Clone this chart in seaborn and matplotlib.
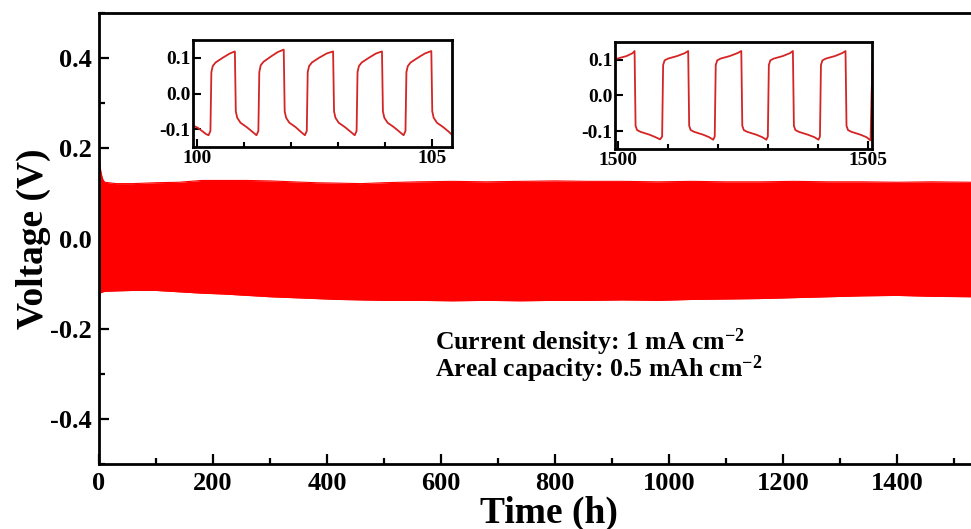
import numpy as np
import pandas as pd
import seaborn as sns
from matplotlib import pyplot as plt
from matplotlib.ticker import MultipleLocator

# envelope of the long cycling trace (h, V)
band_t = [0, 1, 2, 3, 5, 7, 10, 30, 60, 100, 140, 180, 220, 260, 300, 340, 380, 420, 460,
          500, 560, 620, 680, 740, 800, 860, 920, 980, 1040, 1100, 1160, 1220, 1280, 1340,
          1400, 1460, 1530]
band_upper = [0.180, 0.172, 0.160, 0.150, 0.138, 0.130, 0.125, 0.122, 0.122, 0.124, 0.125,
              0.129, 0.129, 0.129, 0.128, 0.126, 0.124, 0.123, 0.122, 0.124, 0.126, 0.127,
              0.126, 0.127, 0.128, 0.127, 0.127, 0.126, 0.127, 0.126, 0.126, 0.127, 0.126,
              0.126, 0.125, 0.126, 0.125]
band_lower = [-0.125, -0.122, -0.121, -0.120, -0.119, -0.118, -0.117, -0.116, -0.115, -0.115,
              -0.118, -0.121, -0.123, -0.126, -0.129, -0.131, -0.133, -0.135, -0.136, -0.137,
              -0.137, -0.138, -0.137, -0.138, -0.137, -0.137, -0.136, -0.137, -0.135, -0.134,
              -0.133, -0.131, -0.129, -0.127, -0.126, -0.128, -0.129]

# inset 1: 100-105 h
in1_t = [99.92, 100.02, 100.12, 100.20,
         100.25, 100.29, 100.31, 100.34, 100.40, 100.55, 100.70, 100.81,
         100.83, 100.86, 100.93, 101.06, 101.18,
         101.27, 101.31, 101.33, 101.36, 101.42, 101.57, 101.72, 101.85,
         101.87, 101.90, 101.97, 102.10, 102.21,
         102.30, 102.34, 102.36, 102.39, 102.45, 102.60, 102.76, 102.90,
         102.92, 102.95, 103.02, 103.15, 103.27,
         103.36, 103.40, 103.42, 103.45, 103.51, 103.66, 103.81, 103.94,
         103.96, 103.99, 104.06, 104.19, 104.31,
         104.40, 104.44, 104.46, 104.49, 104.55, 104.70, 104.85, 104.99,
         105.01, 105.04, 105.11, 105.24, 105.36, 105.43]
in1_v = [-0.090, -0.096, -0.106, -0.114,
         -0.117, -0.105, 0.060, 0.077, 0.087, 0.100, 0.112, 0.118,
         -0.050, -0.068, -0.082, -0.094, -0.107,
         -0.117, -0.105, 0.060, 0.079, 0.089, 0.103, 0.116, 0.123,
         -0.050, -0.068, -0.082, -0.094, -0.107,
         -0.117, -0.105, 0.060, 0.077, 0.087, 0.100, 0.112, 0.118,
         -0.050, -0.068, -0.082, -0.094, -0.107,
         -0.117, -0.105, 0.060, 0.077, 0.087, 0.100, 0.112, 0.118,
         -0.050, -0.068, -0.082, -0.094, -0.107,
         -0.117, -0.105, 0.060, 0.077, 0.087, 0.100, 0.112, 0.119,
         -0.050, -0.068, -0.082, -0.094, -0.107, -0.116]

# inset 2: 1500-1505 h
in2_t = [1499.80, 1499.86, 1499.90, 1500.00, 1500.18, 1500.30, 1500.34,
         1500.36, 1500.39, 1500.46, 1500.64, 1500.76, 1500.85,
         1500.89, 1500.91, 1500.94, 1501.01, 1501.19, 1501.34, 1501.41,
         1501.43, 1501.46, 1501.53, 1501.71, 1501.83, 1501.91,
         1501.94, 1501.96, 1501.99, 1502.06, 1502.24, 1502.39, 1502.47,
         1502.49, 1502.52, 1502.59, 1502.77, 1502.89, 1502.97,
         1503.00, 1503.02, 1503.05, 1503.12, 1503.30, 1503.44, 1503.50,
         1503.52, 1503.55, 1503.62, 1503.80, 1503.93, 1504.01,
         1504.04, 1504.06, 1504.09, 1504.16, 1504.34, 1504.48, 1504.55,
         1504.57, 1504.60, 1504.67, 1504.85, 1504.97, 1505.05,
         1505.07, 1505.09]
in2_v = [-0.125, 0.085, 0.098, 0.103, 0.110, 0.118, 0.124,
         -0.085, -0.097, -0.102, -0.110, -0.117, -0.123,
         -0.115, 0.085, 0.098, 0.103, 0.110, 0.118, 0.124,
         -0.085, -0.097, -0.102, -0.110, -0.117, -0.124,
         -0.115, 0.085, 0.098, 0.103, 0.110, 0.118, 0.124,
         -0.085, -0.097, -0.102, -0.110, -0.117, -0.124,
         -0.115, 0.085, 0.098, 0.103, 0.110, 0.118, 0.124,
         -0.085, -0.097, -0.102, -0.110, -0.117, -0.124,
         -0.115, 0.085, 0.098, 0.103, 0.110, 0.118, 0.124,
         -0.085, -0.097, -0.102, -0.110, -0.117, -0.126,
         0.000, 0.093]

note_lines = ["Current density: 1 mA cm$^{-2}$", "Areal capacity: 0.5 mAh cm$^{-2}$"]

BAND_RED = '#ff0000'
LINE_RED = '#d42424'

sns.set_theme(style="ticks")
plt.rcParams['font.family'] = ['Liberation Serif', 'DejaVu Serif']
plt.rcParams['font.weight'] = 'bold'
plt.rcParams['mathtext.default'] = 'regular'
plt.rcParams['axes.linewidth'] = 2.0
plt.rcParams['axes.edgecolor'] = 'black'
plt.rcParams['axes.labelcolor'] = 'black'
plt.rcParams['text.color'] = 'black'
plt.rcParams['xtick.color'] = 'black'
plt.rcParams['ytick.color'] = 'black'

fig = plt.figure(figsize=(9.71, 5.29), dpi=100)
ax = fig.add_axes([0.102, 0.1229, 0.898, 0.8521])

band = pd.DataFrame({'t': band_t, 'upper': band_upper, 'lower': band_lower})
ax.fill_between(band['t'], band['lower'], band['upper'], color=BAND_RED, linewidth=0)
sns.lineplot(data=band, x='t', y='upper', ax=ax, color=BAND_RED, lw=0.8, estimator=None)
sns.lineplot(data=band, x='t', y='lower', ax=ax, color=BAND_RED, lw=0.8, estimator=None)

ax.set_xlim(0, 1530)
ax.set_ylim(-0.5, 0.5)
ax.xaxis.set_major_locator(MultipleLocator(200))
ax.xaxis.set_minor_locator(MultipleLocator(100))
ax.yaxis.set_major_locator(MultipleLocator(0.2))
ax.yaxis.set_minor_locator(MultipleLocator(0.1))
ax.yaxis.set_major_formatter(plt.FuncFormatter(lambda v, p: f'{v:.1f}'.replace('−', '-')))
ax.tick_params(which='both', direction='in', width=1.6, colors='black')
ax.tick_params(which='major', length=7)
ax.tick_params(which='minor', length=4)
ax.tick_params(axis='x', labelsize=19, pad=6)
ax.tick_params(axis='y', labelsize=19, pad=5)
ax.spines['right'].set_visible(False)
ax.set_xlabel('Time (h)', fontsize=27, fontweight='bold')
ax.set_ylabel('Voltage (V)', fontsize=27, fontweight='bold')
ax.xaxis.set_label_coords(0.516, -0.070)
ax.yaxis.set_label_coords(-0.055, 0.5)

# both note lines as one text block
ax.text(590, -0.196, '\n'.join(note_lines), fontsize=18.5, fontweight='bold',
        va='top', ha='left', linespacing=0.8)


def draw_inset(rect, t, v, xlim, xticks):
    ins = fig.add_axes(rect)
    df = pd.DataFrame({'t': t, 'v': v})
    sns.lineplot(data=df, x='t', y='v', ax=ins, color=LINE_RED, lw=1.3, estimator=None)
    ins.set_xlim(*xlim)
    ins.set_ylim(-0.15, 0.15)
    ins.set_xticks(xticks)
    ins.xaxis.set_minor_locator(MultipleLocator(1))
    ins.set_yticks([-0.1, 0.0, 0.1])
    ins.set_yticklabels(['-0.1', '0.0', '0.1'])
    ins.tick_params(which='both', direction='in', width=1.5, colors='black', labelsize=14, pad=2)
    ins.tick_params(which='major', length=6)
    ins.tick_params(which='minor', length=3.5)
    ins.set_xlabel('')
    ins.set_ylabel('')
    for s in ins.spines.values():
        s.set_linewidth(2.0)
    return ins


draw_inset([0.1988, 0.7221, 0.2667, 0.2023], in1_t, in1_v, (99.92, 105.43), [100, 105])
draw_inset([0.6334, 0.7183, 0.2647, 0.2028], in2_t, in2_v, (1499.95, 1505.08), [1500, 1505])

fig.savefig('out.png', dpi=100)
